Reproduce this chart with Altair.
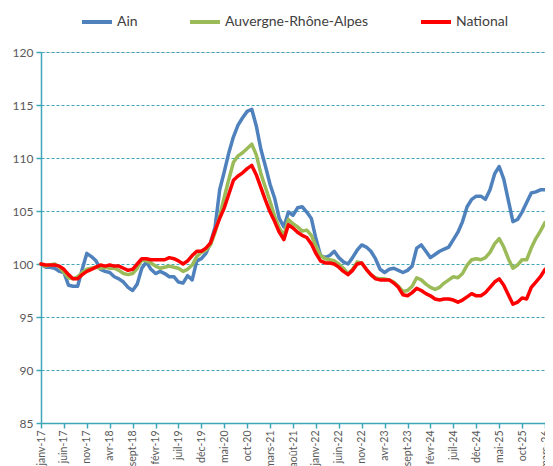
import altair as alt
import pandas as pd

# Month labels (janv-17 .. mars-26)
month_abbr = ["janv", "févr", "mars", "avr", "mai", "juin",
              "juil", "août", "sept", "oct", "nov", "déc"]
months = [f"{month_abbr[m]}-{y:02d}" for y in range(17, 27) for m in range(12)][:111]
tick_labels = months[::5]

series_names = ["Ain", "Auvergne-Rhône-Alpes", "National"]
series_colors = ["#4F81BD", "#9BBB59", "#FF0000"]

ain = [
    100.0, 99.7, 99.7, 99.6, 99.3, 99.2, 98.0, 97.9, 97.9, 99.5,
    101.0, 100.7, 100.3, 99.5, 99.3, 99.2, 98.8, 98.6, 98.3, 97.8,
    97.5, 98.1, 99.6, 100.2, 99.5, 99.1, 99.3, 99.1, 98.8, 98.8,
    98.3, 98.2, 98.9, 98.5, 100.3, 100.5, 101.0, 102.0, 103.5, 107.0,
    108.7, 110.5, 112.0, 113.1, 113.8, 114.4, 114.6, 113.0, 110.8, 109.2,
    107.5, 106.2, 104.3, 103.5, 104.9, 104.6, 105.3, 105.4, 104.9, 104.3,
    102.4, 100.8, 100.6, 100.8, 101.2, 100.6, 100.2, 100.0, 100.6, 101.3,
    101.8, 101.6, 101.2, 100.5, 99.5, 99.2, 99.5, 99.6, 99.4, 99.2,
    99.4, 99.8, 101.5, 101.8, 101.2, 100.6, 100.9, 101.2, 101.4, 101.6,
    102.3, 103.0, 104.0, 105.4, 106.1, 106.4, 106.4, 106.1, 107.0, 108.5,
    109.2, 108.0, 106.0, 104.0, 104.2, 104.9, 105.8, 106.7, 106.8, 107.0,
    107.0,
]

aura = [
    100.0, 99.8, 99.9, 100.0, 99.7, 99.2, 98.7, 98.6, 98.8, 99.2,
    99.5, 99.6, 99.7, 99.6, 99.7, 99.6, 99.6, 99.4, 99.1, 99.0,
    99.1, 99.6, 100.4, 100.3, 100.1, 99.8, 99.6, 99.7, 99.8, 99.7,
    99.6, 99.3, 99.5, 99.9, 100.7, 101.1, 101.3, 101.8, 103.0, 104.5,
    106.3, 108.0, 109.6, 110.2, 110.5, 110.9, 111.3, 110.3, 108.5, 107.2,
    105.9, 104.5, 103.4, 102.7, 104.2, 103.8, 103.5, 103.1, 103.2, 102.7,
    101.7, 100.8, 100.5, 100.4, 100.3, 100.0, 99.6, 99.1, 99.5, 100.2,
    100.1, 99.5, 99.0, 98.7, 98.6, 98.6, 98.5, 98.3, 97.9, 97.4,
    97.5, 97.9, 98.7, 98.5, 98.1, 97.8, 97.6, 97.8, 98.2, 98.5,
    98.8, 98.7, 99.1, 99.9, 100.4, 100.5, 100.4, 100.6, 101.1, 101.9,
    102.4, 101.6, 100.5, 99.6, 99.9, 100.4, 100.4, 101.5, 102.4, 103.1,
    103.9,
]

national = [
    100.0, 99.9, 99.9, 99.9, 99.8, 99.5, 99.0, 98.6, 98.6, 99.0,
    99.3, 99.5, 99.7, 99.9, 99.8, 99.9, 99.8, 99.8, 99.6, 99.4,
    99.5, 100.0, 100.5, 100.5, 100.4, 100.4, 100.4, 100.4, 100.6, 100.5,
    100.3, 100.0, 100.3, 100.8, 101.2, 101.2, 101.5, 102.0, 103.2, 104.3,
    105.3, 106.6, 107.9, 108.3, 108.6, 109.0, 109.3, 108.4, 107.2, 106.0,
    104.9, 104.0, 103.0, 102.3, 103.7, 103.4, 103.0, 102.7, 102.5, 101.9,
    101.0, 100.3, 100.1, 100.1, 100.0, 99.7, 99.3, 99.0, 99.4, 100.0,
    100.1, 99.5, 99.0, 98.6, 98.5, 98.5, 98.5, 98.2, 97.8, 97.1,
    97.0, 97.3, 97.7, 97.5, 97.2, 97.0, 96.7, 96.6, 96.7, 96.7,
    96.6, 96.4, 96.6, 96.9, 97.2, 97.0, 97.0, 97.3, 97.8, 98.3,
    98.6, 98.0, 97.1, 96.2, 96.4, 96.8, 96.7, 97.8, 98.3, 98.8,
    99.5,
]

y_ticks = [85, 90, 95, 100, 105, 110, 115, 120]

rows = []
for name, vals in zip(series_names, [ain, aura, national]):
    for m, v in zip(months, vals):
        rows.append({"mois": m, "serie": name, "valeur": v})
df = pd.DataFrame(rows)

teal = "#3FA6B8"
label_color = "#595959"
font = "Lato"

chart = (
    alt.Chart(df)
    .mark_line(strokeWidth=3.5, strokeJoin="round", strokeCap="round")
    .encode(
        x=alt.X(
            "mois:O",
            sort=months,
            scale=alt.Scale(type="point", padding=0),
            axis=alt.Axis(
                values=tick_labels,
                title=None,
                labelAngle=270,
                labelAlign="right",
                labelBaseline="middle",
                labelColor=label_color,
                labelFontSize=10.5,
                labelFont=font,
                labelPadding=2,
                domainColor=teal,
                domainWidth=1.5,
                tickColor=teal,
                tickWidth=1.5,
                tickSize=5,
                grid=False,
                labelOverlap=False,
            ),
        ),
        y=alt.Y(
            "valeur:Q",
            scale=alt.Scale(domain=[85, 120], nice=False, zero=False),
            axis=alt.Axis(
                values=y_ticks,
                title=None,
                labelColor=label_color,
                labelFontSize=12,
                labelFont=font,
                labelPadding=3,
                domainColor=teal,
                domainWidth=1.5,
                tickColor=teal,
                tickWidth=1.5,
                tickSize=5,
                grid=True,
                gridColor=teal,
                gridDash=[3, 2],
                gridWidth=1,
            ),
        ),
        color=alt.Color(
            "serie:N",
            sort=series_names,
            scale=alt.Scale(domain=series_names, range=series_colors),
            legend=alt.Legend(
                title=None,
                orient="none",
                legendX=39,
                legendY=-47,
                direction="horizontal",
                symbolType="stroke",
                symbolStrokeWidth=4,
                symbolSize=900,
                labelFontSize=14,
                labelFont=font,
                labelColor="#404040",
                labelOffset=3,
                columnPadding=44,
            ),
        ),
    )
    .properties(
        width=504,
        height=371,
        autosize=alt.AutoSizeParams(type="none"),
        padding={"left": 33, "top": 44, "right": 0, "bottom": 43},
    )
    .configure_view(stroke=None)
    .configure(background="white")
)

chart.save("out.html", embed_options={"renderer": "svg", "actions": False})
